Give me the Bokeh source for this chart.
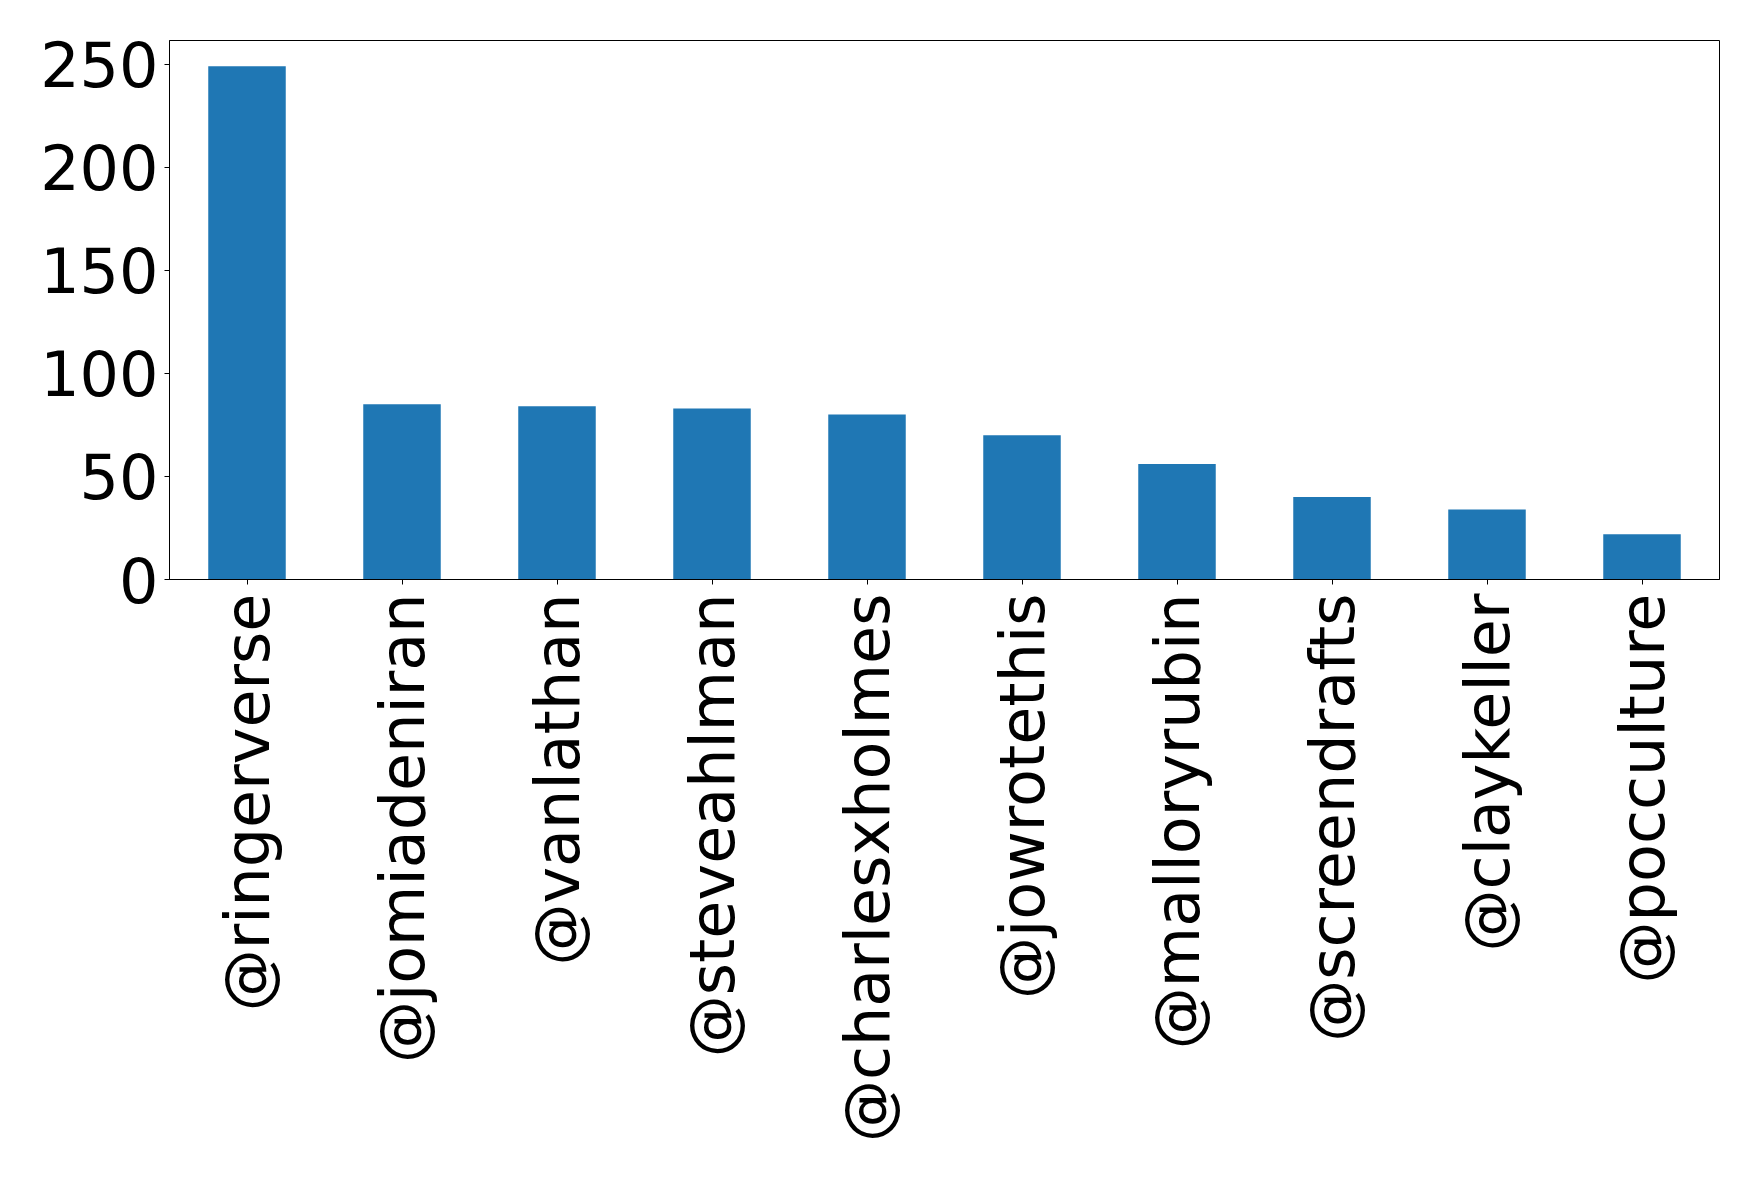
import math
from bokeh.plotting import figure
from bokeh.models import FixedTicker, Range1d
from bokeh.embed import file_html
from bokeh.resources import INLINE

accounts = ["@ringerverse", "@jomiadeniran", "@vanlathan", "@steveahlman",
            "@charlesxholmes", "@jowrotethis", "@malloryrubin", "@screendrafts",
            "@claykeller", "@pocculture"]
counts = [249, 85, 84, 83, 80, 70, 56, 40, 34, 22]
y_ticks = [0, 50, 100, 150, 200, 250]

FONT = "DejaVu Sans"

p = figure(x_range=accounts, width=1750, height=1173,
           output_backend="svg", toolbar_location=None,
           min_border_left=169, min_border_right=31,
           min_border_top=40, min_border_bottom=594)
p.y_range = Range1d(0, max(counts) * 1.05)
p.x_range.range_padding = 0

p.vbar(x=accounts, top=counts, width=0.5, fill_color="#1f77b4", line_color=None)

p.xgrid.visible = False
p.ygrid.visible = False
p.outline_line_color = "black"
p.outline_line_alpha = 1
p.outline_line_width = 1

for ax in (p.xaxis, p.yaxis):
    ax.axis_line_color = "black"
    ax.axis_line_width = 1
    ax.major_tick_line_color = "black"
    ax.major_tick_in = 0
    ax.major_tick_out = 5
    ax.minor_tick_line_color = None
    ax.major_label_text_font = FONT
    ax.major_label_text_font_size = "62px"
    ax.major_label_text_color = "black"

p.xaxis.major_label_standoff = 9
p.yaxis.major_label_standoff = 6

p.yaxis.ticker = FixedTicker(ticks=y_ticks)
p.xaxis.major_label_orientation = math.pi / 2

p.background_fill_color = "white"
p.border_fill_color = "white"

open("out.html", "w").write(file_html(p, INLINE))
